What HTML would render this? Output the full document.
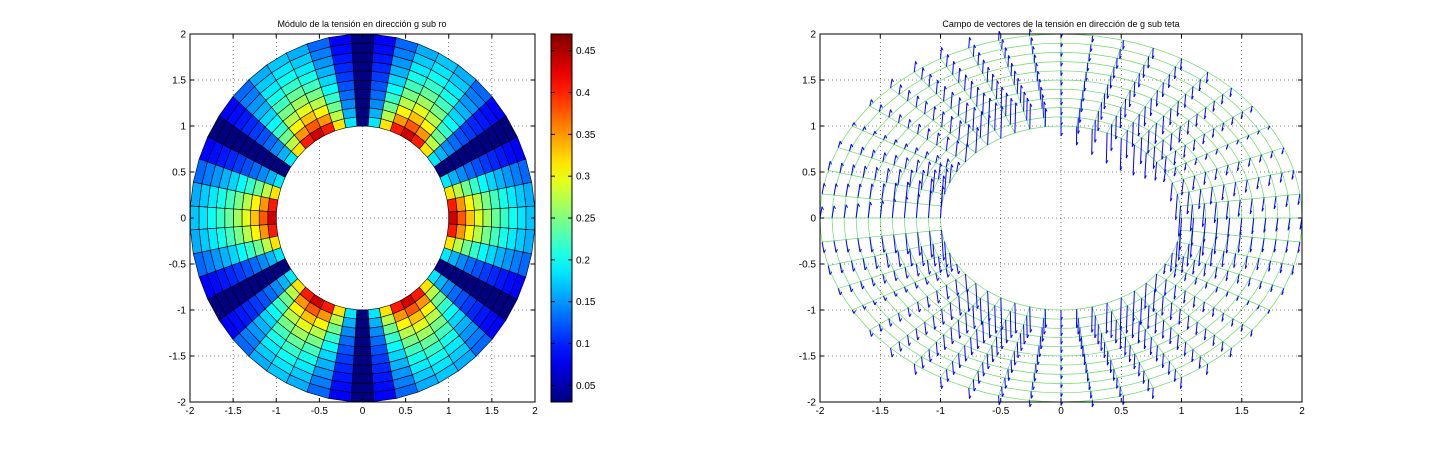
<!DOCTYPE html>
<html><head><meta charset="utf-8"><style>
body{margin:0;background:#fff;}
svg{display:block;font-family:"Liberation Sans",sans-serif;font-size:10px;}
</style></head><body>
<svg id="s" width="1440" height="452" xmlns="http://www.w3.org/2000/svg"></svg>
<script>
const s=document.getElementById('s');let h='';
function jet(v){v=Math.max(0,Math.min(1,v));
 const f=(x)=>Math.max(0,Math.min(1,1.5-Math.abs(4*v-x)));
 return `rgb(${Math.round(f(3)*255)},${Math.round(f(2)*255)},${Math.round(f(1)*255)})`;}
const LX=x=>190+(x+2)*86.25, LY=y=>34+(2-y)*92;
const RX=x=>820+(x+2)*120.5, RY=y=>34+(2-y)*92;
function axes(X,Y,x0,x1){
 for(let t=-2;t<=2.001;t+=0.5){
  const px=X(t),py=Y(t);
  h+=`<line x1="${px}" y1="34" x2="${px}" y2="402" stroke="#000" stroke-width="0.6" stroke-dasharray="1,3"/>`;
  h+=`<line x1="${x0}" y1="${py}" x2="${x1}" y2="${py}" stroke="#000" stroke-width="0.6" stroke-dasharray="1,3"/>`;
 }}
function axframe(X,Y,x0,x1){
 h+=`<rect x="${x0}" y="34" width="${x1-x0}" height="368" fill="none" stroke="#000" stroke-width="1"/>`;
 for(let t=-2;t<=2.001;t+=0.5){
  const px=X(t),py=Y(t),l=(Math.round(t*10)/10).toString();
  h+=`<line x1="${px}" y1="402" x2="${px}" y2="398" stroke="#000"/><line x1="${px}" y1="34" x2="${px}" y2="38" stroke="#000"/>`;
  h+=`<line x1="${x0}" y1="${py}" x2="${x0+4}" y2="${py}" stroke="#000"/><line x1="${x1}" y1="${py}" x2="${x1-4}" y2="${py}" stroke="#000"/>`;
  h+=`<text x="${px}" y="414" text-anchor="middle">${l}</text>`;
  h+=`<text x="${x0-4}" y="${py+3.5}" text-anchor="end">${l}</text>`;
 }}
axes(LX,LY,190,535);
const NR=10,NT=48;
for(let i=0;i<NR;i++)for(let j=0;j<NT;j++){
 const r0=1+i/NR,r1=1+(i+1)/NR,a0=(j-0.5)*2*Math.PI/NT,a1=(j+0.5)*2*Math.PI/NT;
 const rc=(r0+r1)/2,ac=j*2*Math.PI/NT;
 const v=0.03+0.44*Math.abs(Math.cos(3*ac))/Math.pow(rc,1.7);
 const c=jet((v-0.03)/0.44);
 const p=[[r0,a0],[r1,a0],[r1,a1],[r0,a1]].map(([r,a])=>`${LX(r*Math.cos(a)).toFixed(1)},${LY(r*Math.sin(a)).toFixed(1)}`).join(' ');
 h+=`<polygon points="${p}" fill="${c}" stroke="#000" stroke-width="0.6"/>`;
}
axframe(LX,LY,190,535);
h+=`<text x="362" y="27" text-anchor="middle" font-size="9">Módulo de la tensión en dirección g sub ro</text>`;
h+=`<defs><linearGradient id="g" x1="0" y1="1" x2="0" y2="0">`;
for(let k=0;k<=20;k++)h+=`<stop offset="${k/20}" stop-color="${jet(k/20)}"/>`;
h+=`</linearGradient></defs><rect x="551" y="34" width="21" height="368" fill="url(#g)" stroke="#000"/>`;
for(const t of [0.05,0.1,0.15,0.2,0.25,0.3,0.35,0.4,0.45]){
 const py=402-(t-0.03)/0.44*368;
 h+=`<line x1="572" y1="${py}" x2="568" y2="${py}" stroke="#000"/><line x1="551" y1="${py}" x2="555" y2="${py}" stroke="#000"/><text x="576" y="${py+3.5}">${t}</text>`;
}
axes(RX,RY,820,1302);
for(let i=0;i<=NR;i++){const r=1+i/NR;
 let p=[];for(let k=0;k<=80;k++){const a=k*2*Math.PI/80;p.push(`${RX(r*Math.cos(a)).toFixed(1)},${RY(r*Math.sin(a)).toFixed(1)}`);}
 h+=`<polyline points="${p.join(' ')}" fill="none" stroke="#66dd66" stroke-width="0.7"/>`;}
for(let j=0;j<NT;j++){const a=j*2*Math.PI/NT;
 h+=`<line x1="${RX(Math.cos(a))}" y1="${RY(Math.sin(a))}" x2="${RX(2*Math.cos(a))}" y2="${RY(2*Math.sin(a))}" stroke="#66dd66" stroke-width="0.7"/>`;}
for(let i=0;i<=NR;i++)for(let j=0;j<NT;j++){
 const r=1+i/NR,a=j*2*Math.PI/NT;
 const x=RX(r*Math.cos(a)),y=RY(r*Math.sin(a));
 let s3=Math.sin(a);let dir=(Math.cos(a)<0&&s3>0)?-1:1;
 const L=(10+22*Math.abs(Math.cos(3*a)))/Math.pow(r,1.5);
 const dx=-2*Math.cos(a),dy=dir*L;
 const x2=x+dx,y2=y+dy;
 h+=`<line x1="${x.toFixed(1)}" y1="${y.toFixed(1)}" x2="${x2.toFixed(1)}" y2="${y2.toFixed(1)}" stroke="#0000ff" stroke-width="1"/>`;
 h+=`<line x1="${x2.toFixed(1)}" y1="${y2.toFixed(1)}" x2="${(x2+1.5).toFixed(1)}" y2="${(y2-dir*3).toFixed(1)}" stroke="#0000ff"/>`;
}
axframe(RX,RY,820,1302);
h+=`<text x="1061" y="27" text-anchor="middle" font-size="9">Campo de vectores de la tensión en dirección de g sub teta</text>`;
s.innerHTML=h;
</script>
</body></html>
